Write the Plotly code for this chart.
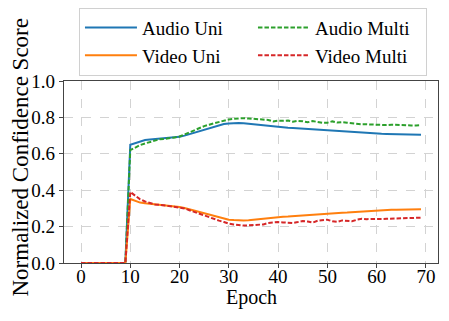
import plotly.graph_objects as go

# Epochs and per-epoch scores
epochs = list(range(70))
zeros = [0.0] * 10

audio_uni = zeros + [
    0.650, 0.660, 0.670, 0.676, 0.678, 0.681, 0.683, 0.683, 0.686, 0.690,
    0.693, 0.700, 0.708, 0.718, 0.726, 0.733, 0.742, 0.750, 0.758, 0.764,
    0.767, 0.769, 0.769, 0.768, 0.765, 0.762, 0.759, 0.756, 0.753, 0.750,
    0.747, 0.745, 0.743, 0.742, 0.740, 0.738, 0.736, 0.734, 0.733, 0.733,
    0.731, 0.729, 0.727, 0.725, 0.724, 0.721, 0.718, 0.716, 0.715, 0.713,
    0.711, 0.710, 0.709, 0.708, 0.707, 0.706, 0.706, 0.705, 0.705, 0.704,
]
audio_multi = zeros + [
    0.620, 0.635, 0.648, 0.657, 0.665, 0.673, 0.680, 0.682, 0.688, 0.690,
    0.695, 0.707, 0.720, 0.730, 0.742, 0.752, 0.760, 0.768, 0.776, 0.784,
    0.789, 0.792, 0.795, 0.796, 0.794, 0.793, 0.790, 0.791, 0.786, 0.778,
    0.782, 0.781, 0.783, 0.776, 0.781, 0.779, 0.773, 0.780, 0.775, 0.770,
    0.771, 0.778, 0.772, 0.774, 0.771, 0.768, 0.763, 0.762, 0.762, 0.760,
    0.760, 0.760, 0.758, 0.760, 0.758, 0.757, 0.757, 0.756, 0.756, 0.757,
]
video_uni = zeros + [
    0.352, 0.340, 0.332, 0.328, 0.325, 0.324, 0.322, 0.320, 0.316, 0.312,
    0.308, 0.302, 0.295, 0.288, 0.280, 0.273, 0.266, 0.259, 0.250, 0.243,
    0.238, 0.236, 0.234, 0.234, 0.235, 0.238, 0.241, 0.244, 0.247, 0.250,
    0.252, 0.254, 0.255, 0.257, 0.259, 0.261, 0.264, 0.267, 0.270, 0.272,
    0.273, 0.273, 0.274, 0.276, 0.277, 0.279, 0.281, 0.283, 0.285, 0.287,
    0.288, 0.289, 0.291, 0.292, 0.293, 0.293, 0.294, 0.294, 0.295, 0.296,
]
video_multi = zeros + [
    0.390, 0.368, 0.350, 0.338, 0.330, 0.322, 0.320, 0.316, 0.314, 0.312,
    0.308, 0.300, 0.290, 0.280, 0.270, 0.260, 0.252, 0.243, 0.233, 0.225,
    0.216, 0.212, 0.208, 0.206, 0.207, 0.209, 0.210, 0.212, 0.220, 0.224,
    0.225, 0.223, 0.221, 0.220, 0.225, 0.231, 0.228, 0.222, 0.232, 0.237,
    0.238, 0.229, 0.226, 0.234, 0.230, 0.229, 0.238, 0.243, 0.241, 0.240,
    0.241, 0.242, 0.243, 0.244, 0.245, 0.246, 0.245, 0.246, 0.248, 0.249,
]

# Legend fills row by row: Audio Uni, Audio Multi / Video Uni, Video Multi
series = [
    ("Audio Uni", audio_uni, "#1f77b4", "solid"),
    ("Audio Multi", audio_multi, "#2ca02c", "4.5px,2px"),
    ("Video Uni", video_uni, "#ff7f0e", "solid"),
    ("Video Multi", video_multi, "#d62728", "4.5px,2px"),
]

font = "Liberation Serif, Times New Roman, serif"

fig = go.Figure()
for name, vals, colour, dash in series:
    fig.add_trace(go.Scatter(
        x=epochs, y=vals, name=name, mode="lines",
        line=dict(color=colour, width=2, dash=dash),
    ))

axis_style = dict(
    showline=True, mirror=True, linecolor="#444", linewidth=1.2,
    ticks="outside", ticklen=4, tickcolor="#444",
    showgrid=True, gridcolor="#d3d3d3", griddash="dash", gridwidth=1,
    zeroline=False, tickfont=dict(size=19, color="black", family=font),
)
fig.update_xaxes(range=[-3.45, 72.45], tickvals=list(range(0, 71, 10)),
                 ticklabelstandoff=-8, **axis_style)
fig.update_yaxes(range=[0, 1], tickvals=[0, 0.2, 0.4, 0.6, 0.8, 1.0], tickformat=".1f",
                 **axis_style)

# axis titles as annotations so they sit where the reference has them
fig.add_annotation(text="Epoch", xref="paper", yref="paper", x=0.5, y=-0.192,
                   xanchor="center", yanchor="middle", showarrow=False,
                   font=dict(size=20, family=font, color="black"))
fig.add_annotation(text="Normalized Confidence Score", xref="paper", yref="paper",
                   x=-0.1175, y=0.58, xanchor="center", yanchor="middle",
                   textangle=-90, showarrow=False,
                   font=dict(size=23, family=font, color="black"))

# page body has an 8px margin, so the figure is shrunk by 8px to keep the plot in place
fig.update_layout(
    width=441, height=313,
    margin=dict(l=56, r=11, t=73, b=58, autoexpand=False),
    font=dict(family=font, color="black"),
    plot_bgcolor="white", paper_bgcolor="white",
    legend=dict(
        orientation="h", x=0.04, xanchor="left", y=1.4025, yanchor="top",
        entrywidth=106, entrywidthmode="pixels",
        bordercolor="#d0d0d0", borderwidth=1, bgcolor="white",
        font=dict(size=19, family=font, color="black"), itemwidth=52,
    ),
)

fig.write_html("out.html")
